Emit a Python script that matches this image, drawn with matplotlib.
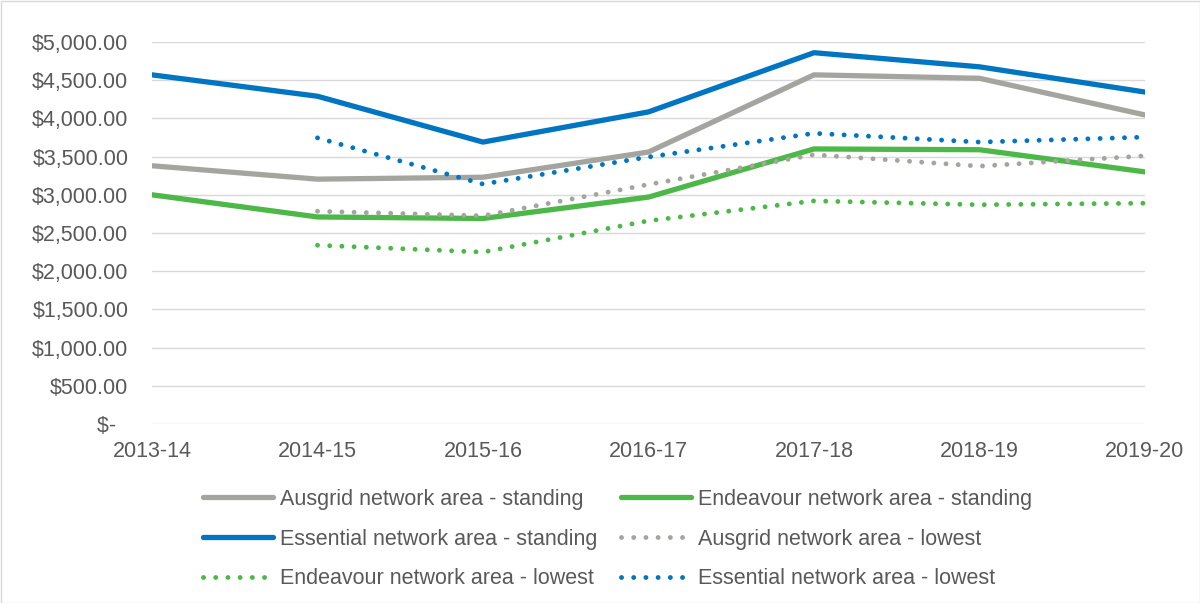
import numpy as np
import matplotlib.pyplot as plt
from matplotlib.patches import Rectangle
from matplotlib.ticker import FuncFormatter

plt.rcParams['font.family'] = ['Liberation Sans', 'DejaVu Sans']

years = ['2013-14', '2014-15', '2015-16', '2016-17', '2017-18', '2018-19', '2019-20']

ausgrid_standing = [3380, 3205, 3230, 3560, 4570, 4525, 4045]
endeavour_standing = [3000, 2710, 2690, 2970, 3600, 3590, 3300]
essential_standing = [4570, 4290, 3690, 4085, 4860, 4675, 4345]
# lowest offers start in 2014-15
ausgrid_lowest = [np.nan, 2785, 2725, 3135, 3525, 3375, 3510]
endeavour_lowest = [np.nan, 2340, 2250, 2660, 2920, 2870, 2890]
essential_lowest = [np.nan, 3745, 3140, 3495, 3805, 3690, 3755]

grey = '#A5A5A0'
green = '#4CB848'
blue = '#0075C2'
txt = '#595959'
fs = 15.5

fig = plt.figure(figsize=(12, 6.03), dpi=100)
ax = fig.add_axes([152/1200, 1-424/603, (1145-152)/1200, (424-42)/603])

x = np.arange(len(years))
dots = (0, (0.01, 2.5))

h1, = ax.plot(x, ausgrid_standing, color=grey, lw=3.8, solid_capstyle='round',
              label='Ausgrid network area - standing')
h2, = ax.plot(x, endeavour_standing, color=green, lw=3.8, solid_capstyle='round',
              label='Endeavour network area - standing')
h3, = ax.plot(x, essential_standing, color=blue, lw=3.8, solid_capstyle='round',
              label='Essential network area - standing')
h4, = ax.plot(x, ausgrid_lowest, color=grey, lw=3.5, ls=dots, dash_capstyle='round',
              label='Ausgrid network area - lowest')
h5, = ax.plot(x, endeavour_lowest, color=green, lw=3.5, ls=dots, dash_capstyle='round',
              label='Endeavour network area - lowest')
h6, = ax.plot(x, essential_lowest, color=blue, lw=3.5, ls=dots, dash_capstyle='round',
              label='Essential network area - lowest')

ax.set_xlim(0, len(years)-1)
ax.set_ylim(0, 5000)
ax.set_yticks(np.arange(0, 5001, 500))
ax.yaxis.set_major_formatter(FuncFormatter(
    lambda v, p: '$-  ' if v == 0 else '${:,.2f}'.format(v)))
ax.set_xticks(x)
ax.set_xticklabels(years)
ax.grid(axis='y', color='#D9D9D9', lw=1)
ax.set_axisbelow(True)
for s in ax.spines.values():
    s.set_visible(False)
ax.tick_params(length=0, labelsize=fs, colors=txt)
ax.tick_params(axis='y', pad=17)
ax.tick_params(axis='x', pad=12)

# excel fills legend row by row, matplotlib column by column
handles = [h1, h3, h5, h2, h4, h6]
leg = fig.legend(handles=handles, labels=[h.get_label() for h in handles],
                 loc='upper left', bbox_to_anchor=(203/1200, 1-489/603), ncol=2,
                 frameon=False, fontsize=fs, handlelength=3.25, handletextpad=0.33,
                 columnspacing=1.1, labelspacing=0.87, borderpad=0, borderaxespad=0)
for t in leg.get_texts():
    t.set_color(txt)

fig.patches.append(Rectangle((0.5/1200, 0.5/603), 1-1/1200, 1-1/603, transform=fig.transFigure,
                             fill=False, edgecolor='#D9D9D9', lw=1))

fig.savefig('out.png', dpi=100)
